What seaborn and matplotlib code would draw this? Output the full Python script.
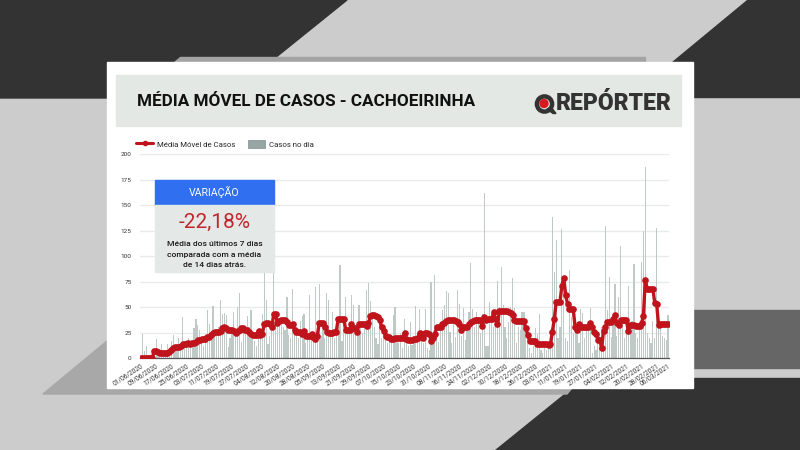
import matplotlib
matplotlib.use("Agg")
import matplotlib.pyplot as plt
from matplotlib.patches import Polygon, Rectangle, Circle, Patch
from matplotlib.lines import Line2D
import seaborn as sns
import pandas as pd
import numpy as np

# ---------------- data ----------------
casos_no_dia = [
    0, 24, 7, 12, 3, 0, 5, 2,
    19, 4, 6, 14, 3, 5, 14, 8,
    17, 23, 12, 10, 20, 9, 40, 14,
    18, 20, 10, 12, 29, 38, 32, 28,
    15, 12, 20, 47, 33, 18, 51, 25,
    22, 30, 57, 43, 44, 42, 11, 20,
    27, 45, 24, 50, 64, 16, 30, 25,
    41, 30, 47, 20, 17, 12, 28, 22,
    43, 95, 57, 14, 22, 30, 100, 42,
    43, 35, 33, 30, 28, 60, 23, 20,
    68, 27, 25, 20, 36, 41, 43, 15,
    20, 62, 20, 18, 70, 25, 73, 22,
    30, 20, 64, 57, 25, 45, 20, 28,
    30, 91, 17, 40, 60, 25, 30, 62,
    52, 28, 35, 52, 30, 25, 30, 67,
    74, 56, 45, 30, 20, 14, 38, 20,
    32, 18, 15, 20, 22, 42, 50, 19,
    15, 25, 10, 38, 20, 12, 35, 13,
    22, 51, 18, 48, 25, 15, 48, 10,
    8, 75, 20, 82, 25, 16, 30, 47,
    52, 66, 64, 26, 15, 40, 21, 67,
    53, 22, 49, 18, 30, 45, 93, 48,
    30, 45, 35, 25, 43, 162, 12, 12,
    55, 40, 30, 47, 76, 50, 89, 52,
    30, 20, 35, 50, 79, 49, 15, 30,
    28, 45, 45, 27, 20, 10, 5, 12,
    29, 24, 43, 8, 5, 10, 8, 12,
    22, 139, 85, 116, 20, 30, 127, 73,
    20, 17, 86, 40, 25, 38, 27, 15,
    48, 44, 20, 31, 31, 49, 5, 12,
    8, 15, 22, 30, 21, 130, 47, 80,
    21, 35, 73, 22, 60, 110, 38, 20,
    30, 71, 28, 36, 92, 25, 20, 35,
    94, 125, 188, 25, 20, 15, 36, 20,
    128, 31, 30, 22, 20, 18, 42,
]

media_movel = [
    0, 0, 0, 0, 0, 0, 0, 7,
    7, 6, 5, 5, 5, 5, 5, 6,
    8, 10, 11, 11, 11, 12, 14, 14,
    14, 15, 14, 15, 15, 16, 18, 18,
    19, 19, 19, 21, 21, 23, 25, 26,
    26, 26, 27, 29, 30, 29, 28, 28,
    28, 27, 25, 27, 28, 29, 29, 28,
    28, 26, 24, 23, 23, 23, 27, 23,
    24, 33, 34, 34, 33, 30, 43, 43,
    34, 36, 37, 37, 37, 35, 32, 32,
    33, 28, 26, 26, 26, 24, 27, 22,
    22, 22, 24, 21, 19, 22, 34, 34,
    34, 30, 26, 25, 25, 25, 26, 26,
    38, 38, 38, 38, 28, 28, 28, 33,
    29, 29, 26, 33, 33, 33, 33, 31,
    34, 41, 42, 42, 41, 40, 37, 30,
    27, 22, 21, 21, 19, 19, 20, 20,
    20, 20, 20, 25, 19, 18, 18, 18,
    19, 19, 20, 25, 21, 20, 25, 25,
    24, 17, 20, 24, 30, 30, 30, 33,
    34, 36, 37, 37, 37, 37, 36, 35,
    33, 28, 30, 30, 30, 33, 35, 36,
    37, 37, 37, 37, 31, 40, 37, 38,
    38, 38, 45, 38, 33, 46, 46, 46,
    46, 46, 45, 44, 42, 37, 36, 36,
    36, 36, 36, 29, 23, 17, 17, 17,
    17, 14, 14, 14, 14, 14, 14, 13,
    14, 26, 38, 55, 55, 55, 71, 79,
    62, 53, 48, 48, 48, 30, 28, 33,
    30, 30, 30, 30, 30, 34, 30, 26,
    24, 18, 18, 10, 27, 30, 35, 35,
    35, 38, 42, 34, 32, 37, 37, 37,
    37, 27, 32, 32, 32, 31, 31, 31,
    34, 41, 77, 68, 68, 68, 68, 54,
    53, 32, 33, 33, 33, 33, 33,
]

tick_labels = [
    "01/06/2020", "09/06/2020", "17/06/2020", "25/06/2020", "03/07/2020",
    "11/07/2020", "19/07/2020", "27/07/2020", "04/08/2020", "12/08/2020",
    "20/08/2020", "28/08/2020", "05/09/2020", "13/09/2020", "21/09/2020",
    "29/09/2020", "07/10/2020", "15/10/2020", "23/10/2020", "31/10/2020",
    "08/11/2020", "16/11/2020", "24/11/2020", "02/12/2020", "10/12/2020",
    "18/12/2020", "26/12/2020", "03/01/2021", "11/01/2021", "19/01/2021",
    "27/01/2021", "04/02/2021", "12/02/2021", "20/02/2021", "28/02/2021",
    "06/03/2021",
]
y_ticks = [0, 25, 50, 75, 100, 125, 150, 175, 200]

titulo = "MÉDIA MÓVEL DE CASOS - CACHOEIRINHA"
variacao = "-22,18%"
variacao_texto = ["Média dos últimos 7 dias", "comparada com a média", "de 14 dias atrás."]

n = len(casos_no_dia)
assert n == len(media_movel) == 279
df = pd.DataFrame({"dia": np.arange(n), "casos": casos_no_dia, "media": media_movel})
tick_pos = list(range(0, 273, 8)) + [n - 1]

# ---------------- figure ----------------
sns.set_theme(style="white")
plt.rcParams["font.family"] = ["Roboto", "DejaVu Sans"]

W, H = 800, 450
fig = plt.figure(figsize=(8, 4.5), dpi=100)

# background layer in pixel coordinates
bg = fig.add_axes([0, 0, 1, 1], zorder=-2)
bg.set_xlim(0, W)
bg.set_ylim(H, 0)
bg.axis("off")
bg.add_patch(Rectangle((0, 0), W, H, color="#cccccc", zorder=0))
bg.add_patch(Polygon([(0, 0), (347, 0), (270, 62), (107, 62), (107, 98), (0, 98)],
                     closed=True, color="#333333", zorder=1))
bg.add_patch(Polygon([(747, 0), (800, 0), (800, 97), (693, 97), (693, 62), (672, 62)],
                     closed=True, color="#333333", zorder=1))
bg.add_patch(Polygon([(180, 57), (645, 57), (645, 62), (174, 62)], closed=True,
                     color="#a3a3a3", zorder=2))
bg.add_patch(Rectangle((693, 310), 107, 58, color="#666666", zorder=1))
bg.add_patch(Polygon([(584, 378), (800, 378), (800, 450), (495, 450)], closed=True,
                     color="#333333", zorder=1))
bg.add_patch(Polygon([(43, 394), (107, 341), (107, 388), (572, 388), (567, 394)],
                     closed=True, color="#a8a8a8", zorder=2))
# card
bg.add_patch(Rectangle((107, 62), 586, 326, color="white", zorder=3))
bg.add_patch(Rectangle((116, 75), 565, 51, color="#e3e8e5", zorder=4))
bg.text(137, 101.5, titulo, fontsize=12.3, fontweight="bold", color="#111111",
        va="center", ha="left", zorder=5)
# logo
bg.add_patch(Circle((544.5, 104), 7.6, facecolor="none", edgecolor="#333333",
                    linewidth=3.2, zorder=5))
bg.add_patch(Polygon([(547, 109), (553, 113.5), (556, 113.5), (551, 107)], closed=True,
                     color="#333333", zorder=5))
bg.add_patch(Circle((544, 103.5), 4.0, color="#d7191f", zorder=6))
bg.text(556, 104, "REPÓRTER", fontsize=16.6, fontweight="heavy", color="#333333",
        va="center", ha="left", zorder=5)

# main chart
ax = fig.add_axes([140 / W, 1 - 358 / H, 529 / W, 203.5 / H], zorder=1)
ax.set_facecolor("none")
sns.barplot(data=df, x="dia", y="casos", native_scale=True, width=0.62,
            color="#bfc9c6", saturation=1, linewidth=0, errorbar=None, ax=ax, zorder=2)
sns.lineplot(data=df, x="dia", y="media", color="#c0141c", linewidth=2.4,
             marker="o", markersize=4.8, markeredgewidth=0, ax=ax, zorder=3)
ax.set_xlim(-0.5, n - 0.5)
ax.set_ylim(0, 200)
ax.set_yticks(y_ticks)
ax.set_yticklabels([str(v) for v in y_ticks], fontsize=4.6, color="#333333")
ax.set_xticks(tick_pos)
ax.set_xticklabels(tick_labels, rotation=33, ha="right", rotation_mode="anchor",
                   fontsize=4.7, color="#333333")
ax.tick_params(axis="both", length=0, pad=3)
ax.tick_params(axis="y", pad=6)
ax.grid(axis="y", color="#e7ecea", linewidth=1.0, zorder=0)
ax.set_axisbelow(True)
for s in ["top", "right", "left"]:
    ax.spines[s].set_visible(False)
ax.spines["bottom"].set_color("#555555")
ax.spines["bottom"].set_linewidth(0.9)
ax.set_xlabel("")
ax.set_ylabel("")

handles = [
    Line2D([0], [0], color="#c0141c", lw=2.2, marker="o", markersize=4, markeredgewidth=0),
    Patch(facecolor="#97a6a2", edgecolor="#7f8e8a", linewidth=0.5),
]
fig.legend(handles, ["Média Móvel de Casos", "Casos no dia"], loc="center left",
           bbox_to_anchor=(136 / W, 1 - 144 / H), ncol=2, frameon=False, fontsize=5.6,
           handlelength=2.2, handleheight=1.1, columnspacing=1.6, handletextpad=0.5,
           borderaxespad=0, borderpad=0)

# overlay box
ov = fig.add_axes([0, 0, 1, 1], zorder=3)
ov.set_facecolor("none")
ov.set_xlim(0, W)
ov.set_ylim(H, 0)
ov.axis("off")
ov.add_patch(Rectangle((155, 180), 119, 25, color="#2f6ff0", zorder=1))
ov.add_patch(Rectangle((155, 205), 119, 67, color="#e4e8e6", zorder=1))
ov.text(214.5, 192.5, "VARIAÇÃO", fontsize=7.6, color="white", ha="center", va="center", zorder=2)
ov.text(214.5, 222.5, variacao, fontsize=15, color="#c1272d", ha="center", va="center", zorder=2)
for k, line in enumerate(variacao_texto):
    ov.text(214.5, 244 + k * 10.5, line, fontsize=6.1, fontweight="medium", color="#1a1a1a",
            ha="center", va="center", zorder=2)

fig.savefig("out.png", dpi=100)
